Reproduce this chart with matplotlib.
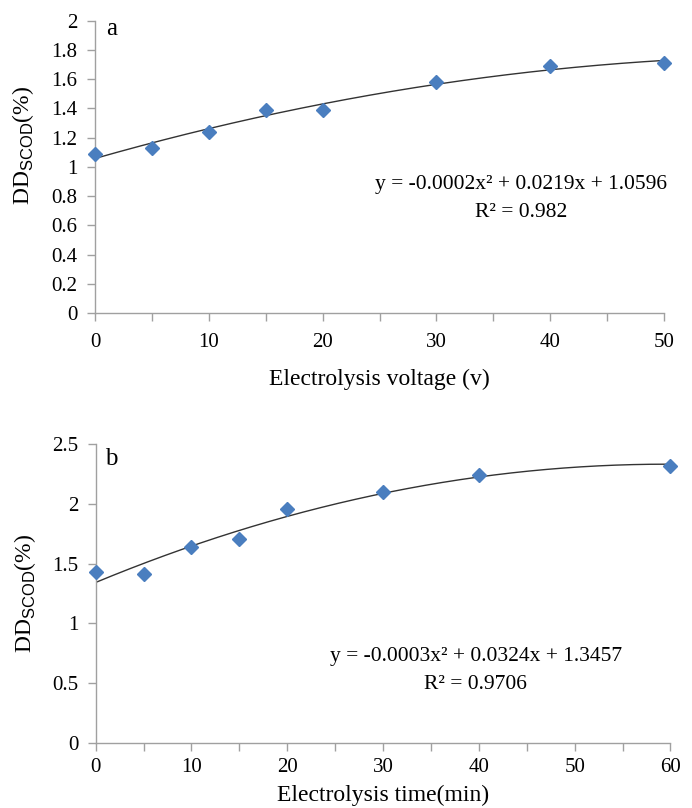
import numpy as np
import matplotlib.pyplot as plt

# panel a: voltage series
voltage = [0, 5, 10, 15, 20, 30, 40, 50]
dd_voltage = [1.09, 1.13, 1.24, 1.39, 1.39, 1.58, 1.69, 1.71]
eq_a = "y = -0.0002x² + 0.0219x + 1.0596"
r2_a = "R² = 0.982"

# panel b: time series
time_min = [0, 5, 10, 15, 20, 30, 40, 60]
dd_time = [1.43, 1.41, 1.64, 1.71, 1.96, 2.10, 2.24, 2.32]
eq_b = "y = -0.0003x² + 0.0324x + 1.3457"
r2_b = "R² = 0.9706"

plt.rcParams['font.family'] = ['Liberation Serif', 'DejaVu Serif']
plt.rcParams['mathtext.fontset'] = 'custom'
plt.rcParams['mathtext.rm'] = 'Liberation Serif'
plt.rcParams['mathtext.sf'] = 'Liberation Sans'

fig = plt.figure(figsize=(6.92, 8.08), dpi=100)
ax_a = fig.add_axes([0.1373, 0.6126, 0.8223, 0.3618])
ax_b = fig.add_axes([0.1383, 0.0804, 0.8306, 0.3700])

marker_col = '#4A7EBF'
grey = '#a0a0a0'


def draw_panel(ax, x, y, xmax, ymax, ystep, xlabel, letter, letter_xy,
               eq, r2, eq_x, eq_y1, eq_y2, xpad):
    # quadratic trend like the spreadsheet one
    coef = np.polyfit(x, y, 2)
    xs = np.linspace(0, xmax, 200)
    ax.plot(xs, np.polyval(coef, xs), color='#333333', lw=1.0, zorder=2)
    ax.plot(x, y, 'D', color=marker_col, ms=7.5, mec=marker_col, zorder=3,
            clip_on=False)
    ax.set_xlim(0, xmax)
    ax.set_ylim(0, ymax)
    ax.set_xticks(np.arange(0, xmax + 1, 10))
    ax.set_xticks(np.arange(0, xmax + 1, 5), minor=True)
    yt = np.arange(0, ymax + ystep / 2, ystep)
    ax.set_yticks(yt)
    ax.set_yticklabels([str(int(round(v))) if abs(v - round(v)) < 1e-9
                        else f"{v:.1f}" for v in yt])
    for s in ['top', 'right']:
        ax.spines[s].set_visible(False)
    for s in ['left', 'bottom']:
        ax.spines[s].set_color(grey)
        ax.spines[s].set_linewidth(1.0)
    ax.tick_params(axis='both', which='both', colors=grey, labelcolor='black',
                   labelsize=15, length=5.5, width=1.0, direction='out')
    ax.tick_params(axis='y', pad=7)
    ax.tick_params(axis='x', pad=xpad)
    ax.set_xlabel(xlabel, fontsize=17)
    ax.set_ylabel(r'DD$_{\mathsf{SCOD}}$(%)', fontsize=17)
    ax.text(letter_xy[0], letter_xy[1], letter, transform=ax.transAxes,
            fontsize=18, va='baseline', ha='left')
    ax.text(eq_x, eq_y1, eq, transform=ax.transAxes,
            fontsize=15.5, ha='center', va='center')
    ax.text(eq_x, eq_y2, r2, transform=ax.transAxes,
            fontsize=15.5, ha='center', va='center')


draw_panel(ax_a, voltage, dd_voltage, 50, 2.0, 0.2,
           'Electrolysis voltage (v)', 'a', (0.019, 0.951),
           eq_a, r2_a, 0.749, 0.438, 0.345, 9)
ax_a.yaxis.set_label_coords(-0.104, 0.575)
ax_a.xaxis.set_label_coords(0.5, -0.19)

draw_panel(ax_b, time_min, dd_time, 60, 2.5, 0.5,
           'Electrolysis time(min)', 'b', (0.016, 0.930),
           eq_b, r2_b, 0.661, 0.288, 0.197, 5.5)
ax_b.yaxis.set_label_coords(-0.100, 0.5)
ax_b.xaxis.set_label_coords(0.5, -0.14)

fig.savefig('out.png', dpi=100)
